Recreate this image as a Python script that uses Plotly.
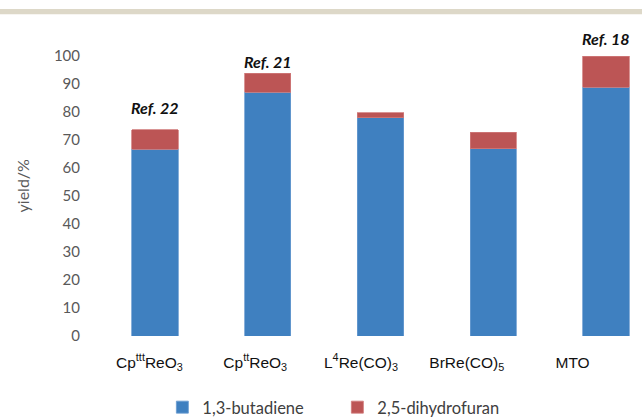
import plotly.graph_objects as go

categories = ["Cp<sup>ttt</sup>ReO<sub>3</sub>", "Cp<sup>tt</sup>ReO<sub>3</sub>",
              "L<sup>4</sup>Re(CO)<sub>3</sub>", "BrRe(CO)<sub>5</sub>", "MTO"]
butadiene = [66.7, 87.0, 77.9, 66.8, 88.8]
dihydrofuran = [7.0, 6.8, 1.9, 5.9, 11.2]
ref_labels = ["Ref. 22", "Ref. 21", "", "", "Ref. 18"]
ref_offsets = [7.8, 4.1, 0, 0, 6.3]
y_ticks = list(range(0, 101, 10))

blue = "#3F80C0"
red = "#BC5555"
x_idx = list(range(len(categories)))

fig = go.Figure()
fig.add_trace(go.Bar(x=x_idx, y=butadiene, name="1,3-butadiene",
                     marker=dict(color=blue, line=dict(color="#6A9BD0", width=0.8))))
fig.add_trace(go.Bar(x=x_idx, y=dihydrofuran, name="2,5-dihydrofuran",
                     marker=dict(color=red, line=dict(color="#D07A7A", width=0.8))))
# carrier for the category-label axis (labels are set slightly tighter than bars)
fig.add_trace(go.Scatter(x=x_idx, y=[None] * len(x_idx), xaxis="x2", yaxis="y",
                         showlegend=False, hoverinfo="skip", mode="markers"))

for i, lab in enumerate(ref_labels):
    if lab:
        fig.add_annotation(x=i, y=(butadiene[i] + dihydrofuran[i] + ref_offsets[i]) / 100.0,
                           text="<b><i>" + lab + "</i></b>", showarrow=False,
                           yanchor="middle", xref="x", yref="paper",
                           font=dict(family="Lato", size=16, color="#111111"))

fig.add_annotation(x=-0.138, y=0.5375, xref="paper", yref="paper", text="yield/%",
                   textangle=-90, showarrow=False, xanchor="center", yanchor="middle",
                   font=dict(family="Lato", size=16, color="#595959"))

# top decorative band
fig.add_shape(type="rect", xref="paper", yref="paper", x0=-0.2, x1=1.0,
              y0=1.149, y1=1.168, fillcolor="#DDD8C8", line=dict(width=0), layer="below")

fig.update_layout(
    width=642, height=418,
    margin=dict(l=98, r=0, t=56, b=82, autoexpand=False),
    paper_bgcolor="white", plot_bgcolor="white",
    barmode="stack", bargap=0.59,
    showlegend=True,
    legend=dict(orientation="h", x=0.44, xanchor="center", y=-0.255, yanchor="middle",
                font=dict(family="Lato", size=16.5, color="#404040"),
                itemwidth=30, entrywidth=130, traceorder="normal"),
    xaxis=dict(range=[-0.506, 4.319], showgrid=False, showline=False, zeroline=False,
               showticklabels=False, ticks=""),
    xaxis2=dict(overlaying="x", side="bottom", tickmode="array", tickvals=x_idx,
                ticktext=categories, range=[-0.486, 4.656],
                showgrid=False, showline=False, zeroline=False,
                tickfont=dict(family="Liberation Sans", size=15.5, color="#111111"),
                ticks="outside", ticklen=12, tickcolor="rgba(0,0,0,0)"),
    yaxis=dict(range=[0, 100], tickvals=y_ticks, showgrid=False, zeroline=False,
               showline=False,
               tickfont=dict(family="Lato", size=15, color="#595959"),
               ticks="outside", ticklen=14, tickcolor="rgba(0,0,0,0)"),
)

fig.write_html("out.html", config={"displayModeBar": False},
               post_script="document.body.style.margin='0';")
